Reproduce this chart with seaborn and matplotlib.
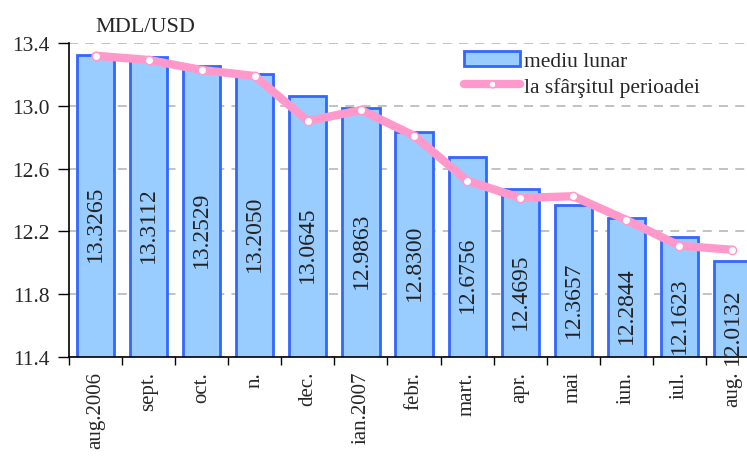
import numpy as np
import matplotlib
matplotlib.use('Agg')
import matplotlib.pyplot as plt
import seaborn as sns
from matplotlib.lines import Line2D
from matplotlib.patches import Patch

months = ['aug.2006', 'sept.', 'oct.', 'n.', 'dec.', 'ian.2007', 'febr.',
          'mart.', 'apr.', 'mai', 'iun.', 'iul.', 'aug.']
monthly_avg = [13.3265, 13.3112, 13.2529, 13.2050, 13.0645, 12.9863, 12.8300,
               12.6756, 12.4695, 12.3657, 12.2844, 12.1623, 12.0132]
end_of_period = [13.319, 13.292, 13.228, 13.190, 12.903, 12.973, 12.810,
                 12.523, 12.413, 12.424, 12.273, 12.109, 12.083]
y_ticks = [11.4, 11.8, 12.2, 12.6, 13.0, 13.4]

sns.set_style('white')
plt.rcParams['font.family'] = ['Liberation Serif', 'DejaVu Serif']

bar_fill = '#99ccff'
bar_edge = '#3366ff'
line_col = '#ff99cc'

fig = plt.figure(figsize=(7.47, 4.6), dpi=100)
ax = fig.add_axes([69 / 747, 102 / 460, 690 / 747, 314 / 460])

# monthly average bars
sns.barplot(x=months, y=monthly_avg, color=bar_fill, edgecolor=bar_edge,
            linewidth=2, width=0.7, saturation=1, ax=ax, zorder=2)

# end of period line
x = np.arange(len(months))
ax.plot(x, end_of_period, color=line_col, lw=6, solid_capstyle='round',
        solid_joinstyle='round', marker='o', markersize=6,
        markerfacecolor='white', markeredgecolor=line_col, markeredgewidth=1,
        zorder=3)

# rotated value labels inside bars
for i, v in enumerate(monthly_avg):
    ax.text(i, (v + y_ticks[0]) / 2 - 0.11, f'{v:.4f}', rotation=90,
            ha='center', va='center', fontsize=17, color='#222222', zorder=4)

ax.set_ylim(y_ticks[0], y_ticks[-1])
ax.set_xlim(-0.5, len(months) - 0.5)
ax.set_yticks(y_ticks)
ax.set_yticklabels([f'{t:.1f}' for t in y_ticks], fontsize=15.5)
ax.set_xticks(x)
ax.set_xticklabels(months, rotation=90, fontsize=15, va='top')
ax.set_xticks(np.arange(-0.5, len(months), 1), minor=True)
ax.tick_params(axis='x', which='major', length=0, pad=10)
ax.tick_params(axis='x', which='minor', length=6, width=1, color='black',
               direction='out', bottom=True)
ax.tick_params(axis='y', length=8, width=1, color='black', direction='out',
               left=True, pad=6)
ax.set_xlabel('')
ax.set_ylabel('')

ax.grid(axis='y', linestyle=(0, (5, 4)), color='#bdbdbd', lw=1.3, zorder=0)
ax.set_axisbelow(True)
for side in ['top', 'right']:
    ax.spines[side].set_visible(False)
for side in ['left', 'bottom']:
    ax.spines[side].set_color('black')
    ax.spines[side].set_linewidth(1.2)

fig.text(95 / 747, 1 - 27 / 460, 'MDL/USD', fontsize=16, va='center',
         ha='left')

handles = [
    Patch(facecolor=bar_fill, edgecolor=bar_edge, linewidth=2),
    Line2D([0], [0], color=line_col, lw=6, solid_capstyle='round',
           marker='o', markersize=5, markerfacecolor='white',
           markeredgecolor=line_col),
]
ax.legend(handles, ['mediu lunar', 'la sfârşitul perioadei'],
          loc='upper left', bbox_to_anchor=(0.545, 1.035), frameon=False,
          fontsize=15.5, handlelength=2.6, handletextpad=0.15,
          labelspacing=0.25, numpoints=1)

fig.savefig('out.png', dpi=100)
